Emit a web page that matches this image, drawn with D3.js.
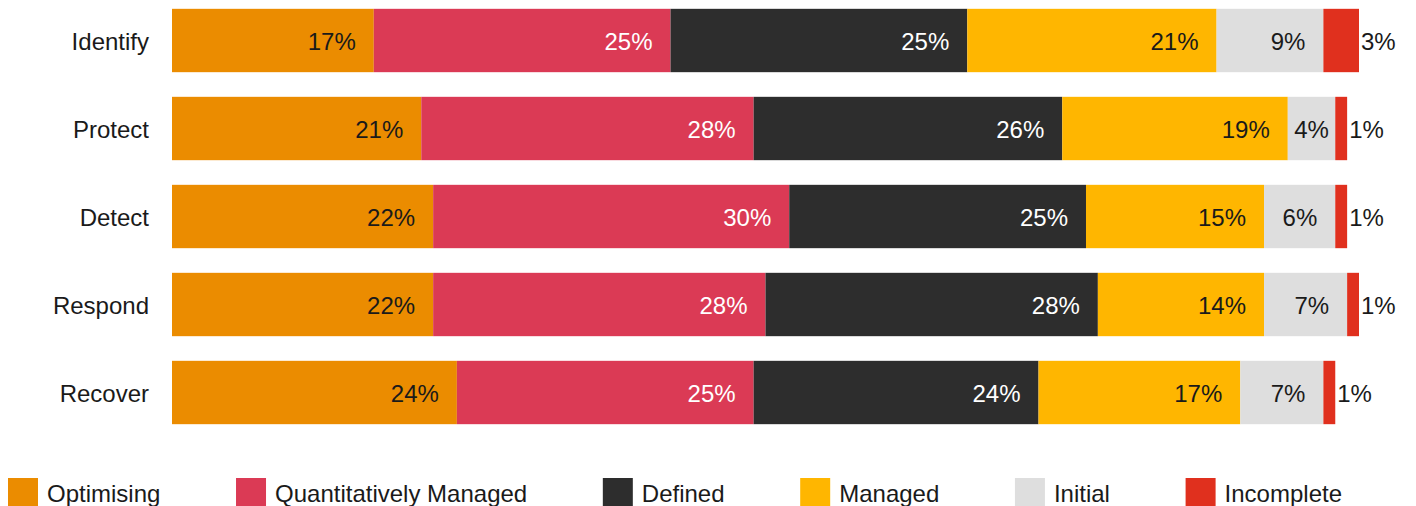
<!DOCTYPE html>
<html>
<head>
<meta charset="utf-8">
<script src="https://cdn.jsdelivr.net/npm/d3@7"></script>
<style>
  body { margin: 0; background: #fff; }
  svg { display: block; font-family: "Liberation Sans", Arial, sans-serif; }
</style>
</head>
<body>
<svg id="chart"></svg>
<script>
const categories = ["Identify", "Protect", "Detect", "Respond", "Recover"];
const seriesNames = ["Optimising", "Quantitatively Managed", "Defined", "Managed", "Initial", "Incomplete"];
const optimising = [17, 21, 22, 22, 24];
const quantManaged = [25, 28, 30, 28, 25];
const defined = [25, 26, 25, 28, 24];
const managed = [21, 19, 15, 14, 17];
const initial = [9, 4, 6, 7, 7];
const incomplete = [3, 1, 1, 1, 1];
const colors = ["#EB8C00", "#DB3A55", "#2D2D2D", "#FFB600", "#DEDEDE", "#E0301E"];
const textColors = ["#1a1a1a", "#ffffff", "#ffffff", "#1a1a1a", "#1a1a1a", "#1a1a1a"];

const width = 1416, height = 506;
const values = [optimising, quantManaged, defined, managed, initial, incomplete];

const rows = categories.map((c, i) => {
    const r = { cat: c };
    seriesNames.forEach((s, j) => r[s] = values[j][i]);
    return r;
});

const stacked = d3.stack().keys(seriesNames)(rows);

const svg = d3.select("#chart")
    .attr("width", width)
    .attr("height", height);

const x = d3.scaleLinear()
    .domain([0, 100])
    .range([172, 1359]);

const y = d3.scaleBand()
    .domain(categories)
    .range([-3.5, 436.5])
    .paddingInner(0.28)
    .paddingOuter(0.14);

// category labels
svg.append("g")
    .selectAll("text")
    .data(categories)
    .join("text")
    .attr("x", 149)
    .attr("y", d => y(d) + y.bandwidth() / 2 + 9)
    .attr("text-anchor", "end")
    .attr("fill", "#1a1a1a")
    .style("font-size", "24px")
    .text(d => d);

const layer = svg.append("g")
    .selectAll("g")
    .data(stacked)
    .join("g");

layer.selectAll("rect")
    .data((d, j) => d.map(p => ({ p: p, j: j })))
    .join("rect")
    .attr("x", d => x(d.p[0]))
    .attr("y", d => y(d.p.data.cat))
    .attr("width", d => x(d.p[1]) - x(d.p[0]))
    .attr("height", y.bandwidth())
    .attr("fill", d => colors[d.j]);

// value labels
layer.selectAll("text")
    .data((d, j) => d.map(p => ({ p: p, j: j })))
    .join("text")
    .attr("y", d => y(d.p.data.cat) + y.bandwidth() / 2 + 9.5)
    .style("font-size", "24px")
    .text(d => (d.p[1] - d.p[0]) + "%")
    .each(function(d) {
        const t = d3.select(this);
        const tw = this.getComputedTextLength();
        const x0 = x(d.p[0]), x1 = x(d.p[1]);
        const w = x1 - x0;
        if (w < tw + 6) {
            t.attr("x", x1 + 2).attr("text-anchor", "start").attr("fill", "#1a1a1a");
        } else {
            const pad = Math.min(18, (w - tw) / 2);
            t.attr("x", x1 - pad).attr("text-anchor", "end").attr("fill", textColors[d.j]);
        }
    });

// legend, spread from left edge to right edge
const legend = svg.append("g");
const items = legend.selectAll("g")
    .data(seriesNames)
    .join("g");

items.append("rect")
    .attr("width", 30)
    .attr("height", 30)
    .attr("y", 478)
    .attr("fill", (d, i) => colors[i]);

items.append("text")
    .attr("x", 39)
    .attr("y", 501.5)
    .attr("fill", "#1a1a1a")
    .style("font-size", "24px")
    .text(d => d);

const itemWidths = [];
items.each(function() {
    itemWidths.push(39 + d3.select(this).select("text").node().getComputedTextLength());
});
const left = 8, right = 1342;
const gap = (right - left - d3.sum(itemWidths)) / (itemWidths.length - 1);
let cx = left;
items.attr("transform", (d, i) => {
    const tx = cx;
    cx += itemWidths[i] + gap;
    return "translate(" + tx + ",0)";
});
</script>
</body>
</html>
